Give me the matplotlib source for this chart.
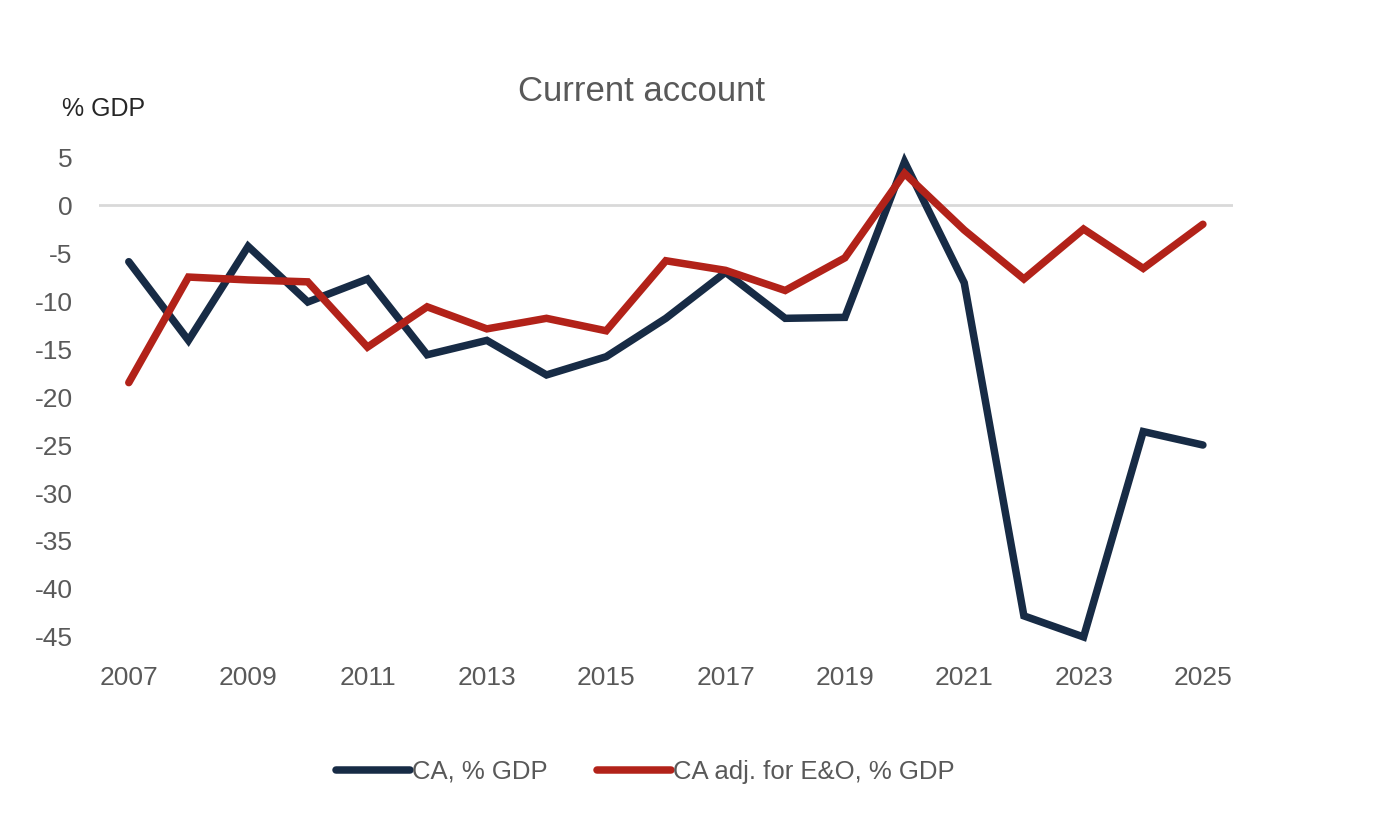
import matplotlib.pyplot as plt
from matplotlib import font_manager

years = list(range(2007, 2026))
ca = [-5.9, -14.1, -4.3, -10.1, -7.7, -15.6, -14.1, -17.7, -15.8, -11.8,
      -7.0, -11.8, -11.7, 4.5, -8.1, -42.8, -45.0, -23.6, -25.0]
ca_adj = [-18.5, -7.5, -7.8, -8.0, -14.8, -10.6, -12.9, -11.8, -13.1, -5.8,
          -6.8, -8.9, -5.5, 3.3, -2.6, -7.7, -2.5, -6.6, -2.0]
xticks = list(range(2007, 2026, 2))
yticks = list(range(5, -46, -5))

names = {f.name for f in font_manager.fontManager.ttflist}
fam = ['Liberation Sans Narrow', 'DejaVu Sans'] if 'Liberation Sans Narrow' in names else ['Liberation Sans', 'DejaVu Sans']
plt.rcParams['font.family'] = fam
plt.rcParams['axes.unicode_minus'] = False

navy = '#172b45'
red = '#b22219'
grey = '#595959'

fig = plt.figure(figsize=(13.82, 8.4), dpi=100)
ax = fig.add_axes([0.0716, 0.2417, 0.8204, 0.5713])

ax.axhline(0, color='#d9d9d9', lw=2, zorder=1)
ax.plot(years, ca, color=navy, lw=5.4, label='CA, % GDP', clip_on=False, zorder=3,
        solid_capstyle='round', solid_joinstyle='miter')
ax.plot(years, ca_adj, color=red, lw=5.4, label='CA adj. for E&O, % GDP', clip_on=False, zorder=4,
        solid_capstyle='round', solid_joinstyle='miter')

ax.set_xlim(2006.5, 2025.5)
ax.set_ylim(-45, 5)
ax.set_xticks(xticks)
ax.set_yticks(yticks)
ax.tick_params(length=0, labelsize=19, colors=grey)
ax.tick_params(axis='x', pad=21)
ax.tick_params(axis='y', pad=19)
for s in ax.spines.values():
    s.set_visible(False)

fig.text(0.464, 0.891, 'Current account', ha='center', va='center', fontsize=25, color=grey)
fig.text(0.045, 0.870, '% GDP', ha='left', va='center', fontsize=18, color='#262626')

leg = fig.legend(loc='center', bbox_to_anchor=(0.467, 0.081), ncol=2, frameon=False,
                 fontsize=18.5, handlelength=2.9, handletextpad=0.08, columnspacing=1.9)
for t in leg.get_texts():
    t.set_color(grey)

fig.savefig('out.png', dpi=100)
